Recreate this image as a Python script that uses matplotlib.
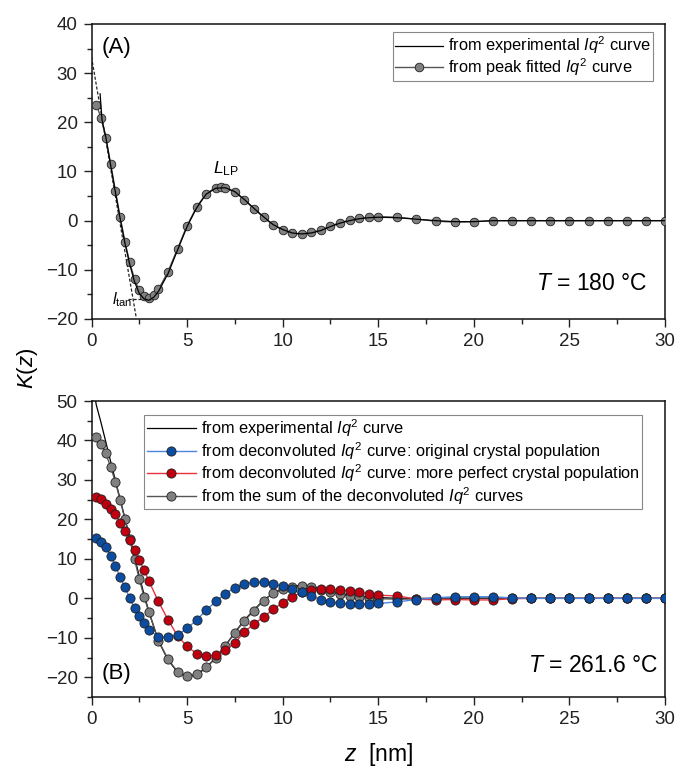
import matplotlib
matplotlib.use("Agg")
import matplotlib.pyplot as plt
from matplotlib.lines import Line2D
from matplotlib.ticker import MultipleLocator

plt.rcParams['font.family'] = ['Liberation Sans', 'DejaVu Sans']
plt.rcParams['mathtext.fontset'] = 'custom'
plt.rcParams['mathtext.rm'] = 'Liberation Sans'
plt.rcParams['mathtext.it'] = 'Liberation Sans:italic'
plt.rcParams['mathtext.bf'] = 'Liberation Sans:bold'

# ---------------- Panel A data (T = 180 °C) ----------------
zA_fit = [0.25, 0.5, 0.75, 1.0, 1.25, 1.5, 1.75, 2.0, 2.25, 2.5, 2.75, 3.0, 3.25, 3.5,
          4.0, 4.5, 5.0, 5.5, 6.0, 6.5, 6.75, 7.0, 7.5, 8.0, 8.5, 9.0, 9.5, 10.0, 10.5,
          11.0, 11.5, 12.0, 12.5, 13.0, 13.5, 14.0, 14.5, 15.0,
          16, 17, 18, 19, 20, 21, 22, 23, 24, 25, 26, 27, 28, 29, 30]
kA_fit = [23.6, 20.9, 16.8, 11.6, 6.1, 0.7, -4.3, -8.5, -11.9, -14.2, -15.4, -15.8, -15.2, -14.0,
          -10.4, -5.7, -1.0, 2.8, 5.5, 6.7, 6.8, 6.7, 5.8, 4.2, 2.4, 0.7, -0.9, -1.9, -2.6,
          -2.7, -2.4, -1.9, -1.1, -0.4, 0.1, 0.5, 0.7, 0.8,
          0.7, 0.3, -0.1, -0.3, -0.2, 0.0, 0.0, 0.0, 0.0, 0.0, 0.0, 0.0, 0.0, 0.0, 0.0]

zA_exp = [0.45, 0.55, 0.75, 1.0, 1.25, 1.5, 1.75, 2.0, 2.25, 2.5, 2.75, 3.0, 3.25, 3.5,
          4.0, 4.5, 5.0, 5.5, 6.0, 6.5, 7.0, 7.5, 8.0, 8.5, 9.0, 9.5, 10.0, 10.5,
          11.0, 11.5, 12.0, 12.5, 13.0, 13.5, 14.0, 14.5, 15.0,
          16, 17, 18, 19, 20, 21, 22, 23, 24, 25, 26, 27, 28, 29, 30]
kA_exp = [25.8, 20.5, 17.0, 11.3, 5.8, 0.4, -4.6, -8.9, -12.4, -14.8, -15.9, -16.2, -15.6, -14.4,
          -10.8, -6.0, -1.2, 2.6, 5.4, 6.6, 6.7, 5.9, 4.3, 2.5, 0.8, -0.8, -1.8, -2.5,
          -2.7, -2.5, -2.0, -1.2, -0.5, 0.0, 0.4, 0.6, 0.7,
          0.6, 0.3, 0.0, -0.2, -0.2, 0.0, 0.0, 0.0, 0.0, 0.0, 0.0, 0.0, 0.0, 0.0, 0.0]

tangent_z = [0.0, 2.33]
tangent_k = [33.3, -19.5]
minline_z = [1.9, 2.6]
minline_k = [-15.9, -15.9]

# ---------------- Panel B data (T = 261.6 °C) ----------------
zB = [0.25, 0.5, 0.75, 1.0, 1.25, 1.5, 1.75, 2.0, 2.25, 2.5, 2.75, 3.0,
      3.5, 4.0, 4.5, 5.0, 5.5, 6.0, 6.5, 7.0, 7.5, 8.0, 8.5, 9.0, 9.5, 10.0,
      10.5, 11.0, 11.5, 12.0, 12.5, 13.0, 13.5, 14.0, 14.5, 15.0,
      16, 17, 18, 19, 20, 21, 22, 23, 24, 25, 26, 27, 28, 29, 30]
kB_orig = [15.3, 14.3, 12.9, 10.7, 8.3, 5.3, 2.8, 0.0, -2.4, -4.6, -6.2, -8.0,
           -9.7, -9.9, -9.3, -7.6, -5.5, -3.0, -0.8, 1.2, 2.7, 3.6, 4.1, 4.1, 3.7, 3.0,
           2.4, 1.5, 0.6, -0.3, -0.9, -1.3, -1.4, -1.4, -1.4, -1.3,
           -0.9, -0.3, 0.15, 0.4, 0.4, 0.4, 0.1, 0.0, 0.0, 0.0, 0.0, 0.0, 0.0, 0.0, 0.0]
kB_perf = [25.6, 25.1, 24.0, 22.7, 21.3, 19.1, 17.1, 14.8, 12.2, 9.7, 7.2, 4.4,
           -0.8, -5.4, -9.5, -12.2, -14.0, -14.7, -14.4, -13.1, -11.3, -8.5, -6.5, -4.7, -2.8, -1.1,
           0.4, 1.5, 2.1, 2.4, 2.3, 2.1, 1.9, 1.5, 1.2, 0.8,
           0.6, -0.2, -0.4, -0.3, -0.4, -0.4, -0.1, 0.0, 0.0, 0.0, 0.0, 0.0, 0.0, 0.0, 0.0]
kB_sum = [40.8, 39.2, 36.7, 33.3, 29.5, 24.9, 20.0, 15.0, 9.9, 4.9, 0.4, -3.5,
          -10.7, -15.4, -18.6, -19.8, -19.2, -17.5, -15.0, -12.1, -8.7, -5.7, -3.1, -0.6, 1.3, 2.3,
          2.9, 3.1, 2.8, 2.2, 1.5, 1.0, 0.6, 0.3, 0.1, -0.1,
          -0.2, -0.2, 0.0, 0.1, 0.1, 0.1, 0.0, 0.0, 0.0, 0.0, 0.0, 0.0, 0.0, 0.0, 0.0]
zB_exp = [0.15, 0.25, 0.5, 0.75, 1.0, 1.25, 1.5, 1.75, 2.0, 2.25, 2.5, 2.75, 3.0,
          3.5, 4.0, 4.5, 5.0, 5.5, 6.0, 6.5, 7.0, 7.5, 8.0, 8.5, 9.0, 9.5, 10.0,
          10.5, 11.0, 11.5, 12.0, 12.5, 13.0, 13.5, 14.0, 14.5, 15.0,
          16, 17, 18, 19, 20, 21, 22, 23, 24, 25, 26, 27, 28, 29, 30]
kB_exp = [52.0, 49.0, 44.5, 39.6, 34.7, 29.9, 25.1, 20.3, 15.4, 10.5, 5.6, 1.0, -3.3,
          -10.8, -15.6, -18.7, -19.9, -19.4, -17.6, -15.1, -12.0, -8.6, -5.5, -2.9, -0.5, 1.3, 2.5,
          3.1, 3.3, 3.0, 2.5, 1.9, 1.3, 0.8, 0.5, 0.3, 0.2,
          0.0, 0.0, 0.0, 0.0, 0.0, 0.0, 0.0, 0.0, 0.0, 0.0, 0.0, 0.0, 0.0, 0.0, 0.0]

xticks = [0, 5, 10, 15, 20, 25, 30]

# ---------------- styles ----------------
GREY = '#808080'
BLUE = '#0c4da2'
BLUE_L = '#4a86e0'
RED = '#c0000f'
RED_L = '#e8323e'
EDGE = '#202020'

fig = plt.figure(figsize=(6.76, 7.67), dpi=100)
L, W = 91.5 / 676, 573.5 / 676
axA = fig.add_axes([L, 1 - 319 / 767, W, 295 / 767])
axB = fig.add_axes([L, 1 - 697 / 767, W, 296 / 767])


def style(ax, ylim, ymaj, ymin):
    ax.set_xlim(0, 30)
    ax.set_ylim(*ylim)
    ax.set_xticks(xticks)
    ax.xaxis.set_minor_locator(MultipleLocator(2.5))
    ax.yaxis.set_major_locator(MultipleLocator(ymaj))
    ax.yaxis.set_minor_locator(MultipleLocator(ymin))
    ax.tick_params(which='both', direction='out', top=False, right=False,
                   labelsize=13.5, width=1.0, colors='#222222')
    ax.tick_params(which='major', length=6, pad=4)
    ax.tick_params(which='minor', length=3.5)
    for s in ax.spines.values():
        s.set_linewidth(1.1)
        s.set_color('#111111')


# ---------------- Panel A ----------------
axA.plot(tangent_z, tangent_k, ls=(0, (2.5, 1.5)), color='#222222', lw=0.9, zorder=2)
axA.plot(minline_z, minline_k, ls=(0, (2.5, 1.5)), color='#222222', lw=0.9, zorder=2)
axA.plot(zA_fit, kA_fit, '-', color='#555555', lw=1.0, marker='o', ms=6.2,
         mfc=GREY, mec=EDGE, mew=0.6, zorder=3)
axA.plot(zA_exp, kA_exp, '-', color='black', lw=0.9, zorder=4)
style(axA, (-20, 40), 10, 5)

hA = [Line2D([], [], color='black', lw=0.9),
      Line2D([], [], color='#555555', lw=1.0, marker='o', ms=6.2, mfc=GREY, mec=EDGE, mew=0.6)]
legA = axA.legend(hA, ['from experimental $Iq^2$ curve', 'from peak fitted $Iq^2$ curve'],
                  loc='upper right', bbox_to_anchor=(0.9786, 0.972), fontsize=11.8,
                  handlelength=2.9, handletextpad=0.3, labelspacing=0.0,
                  borderpad=0.15, borderaxespad=0.0, fancybox=False, framealpha=1)
legA.get_frame().set_edgecolor('#888888')
legA.get_frame().set_linewidth(0.8)

axA.text(0.018, 0.919, '(A)', transform=axA.transAxes, fontsize=16, ha='left', va='center')
axA.text(0.9686, 0.122, '$T$ = 180 °C', transform=axA.transAxes, fontsize=16.5,
         ha='right', va='center')
axA.text(6.35, 9.7, r'$L_{\mathrm{LP}}$', fontsize=12.5, ha='left', va='baseline')
axA.text(1.06, -17.1, r'$l_{\mathrm{tan}}$', fontsize=11.5, ha='left', va='baseline')

# ---------------- Panel B ----------------
axB.plot(zB_exp, kB_exp, '-', color='black', lw=0.9, zorder=2)
axB.plot(zB, kB_sum, '-', color='#555555', lw=1.0, marker='o', ms=6.6,
         mfc=GREY, mec=EDGE, mew=0.6, zorder=3)
axB.plot(zB, kB_perf, '-', color=RED_L, lw=1.0, marker='o', ms=6.6,
         mfc=RED, mec=EDGE, mew=0.6, zorder=4)
axB.plot(zB, kB_orig, '-', color=BLUE_L, lw=1.0, marker='o', ms=6.6,
         mfc=BLUE, mec=EDGE, mew=0.6, zorder=5)
style(axB, (-25, 50), 10, 5)

hB = [Line2D([], [], color='black', lw=0.9),
      Line2D([], [], color=BLUE_L, lw=1.0, marker='o', ms=6.6, mfc=BLUE, mec=EDGE, mew=0.6),
      Line2D([], [], color=RED_L, lw=1.0, marker='o', ms=6.6, mfc=RED, mec=EDGE, mew=0.6),
      Line2D([], [], color='#555555', lw=1.0, marker='o', ms=6.6, mfc=GREY, mec=EDGE, mew=0.6)]
labB = ['from experimental $Iq^2$ curve',
        'from deconvoluted $Iq^2$ curve: original crystal population',
        'from deconvoluted $Iq^2$ curve: more perfect crystal population',
        'from the sum of the deconvoluted $Iq^2$ curves']
legB = axB.legend(hB, labB, loc='upper left', bbox_to_anchor=(0.092, 0.953), fontsize=11.8,
                  handlelength=3.0, handletextpad=0.3, labelspacing=0.05,
                  borderpad=0.15, borderaxespad=0.0, fancybox=False, framealpha=1)
legB.get_frame().set_edgecolor('#888888')
legB.get_frame().set_linewidth(0.8)

axB.text(0.018, 0.081, '(B)', transform=axB.transAxes, fontsize=16, ha='left', va='center')
axB.text(0.988, 0.105, '$T$ = 261.6 °C', transform=axB.transAxes, fontsize=16.5,
         ha='right', va='center')

# ---------------- shared labels ----------------
fig.text(27 / 676, 1 - 368 / 767, '$K$($z$)', rotation=90,
         fontsize=16, ha='center', va='center')
fig.text(378.5 / 676, 1 - 755 / 767, '$z$  [nm]', fontsize=16.5, ha='center', va='center')

fig.savefig('out.png', dpi=100)
